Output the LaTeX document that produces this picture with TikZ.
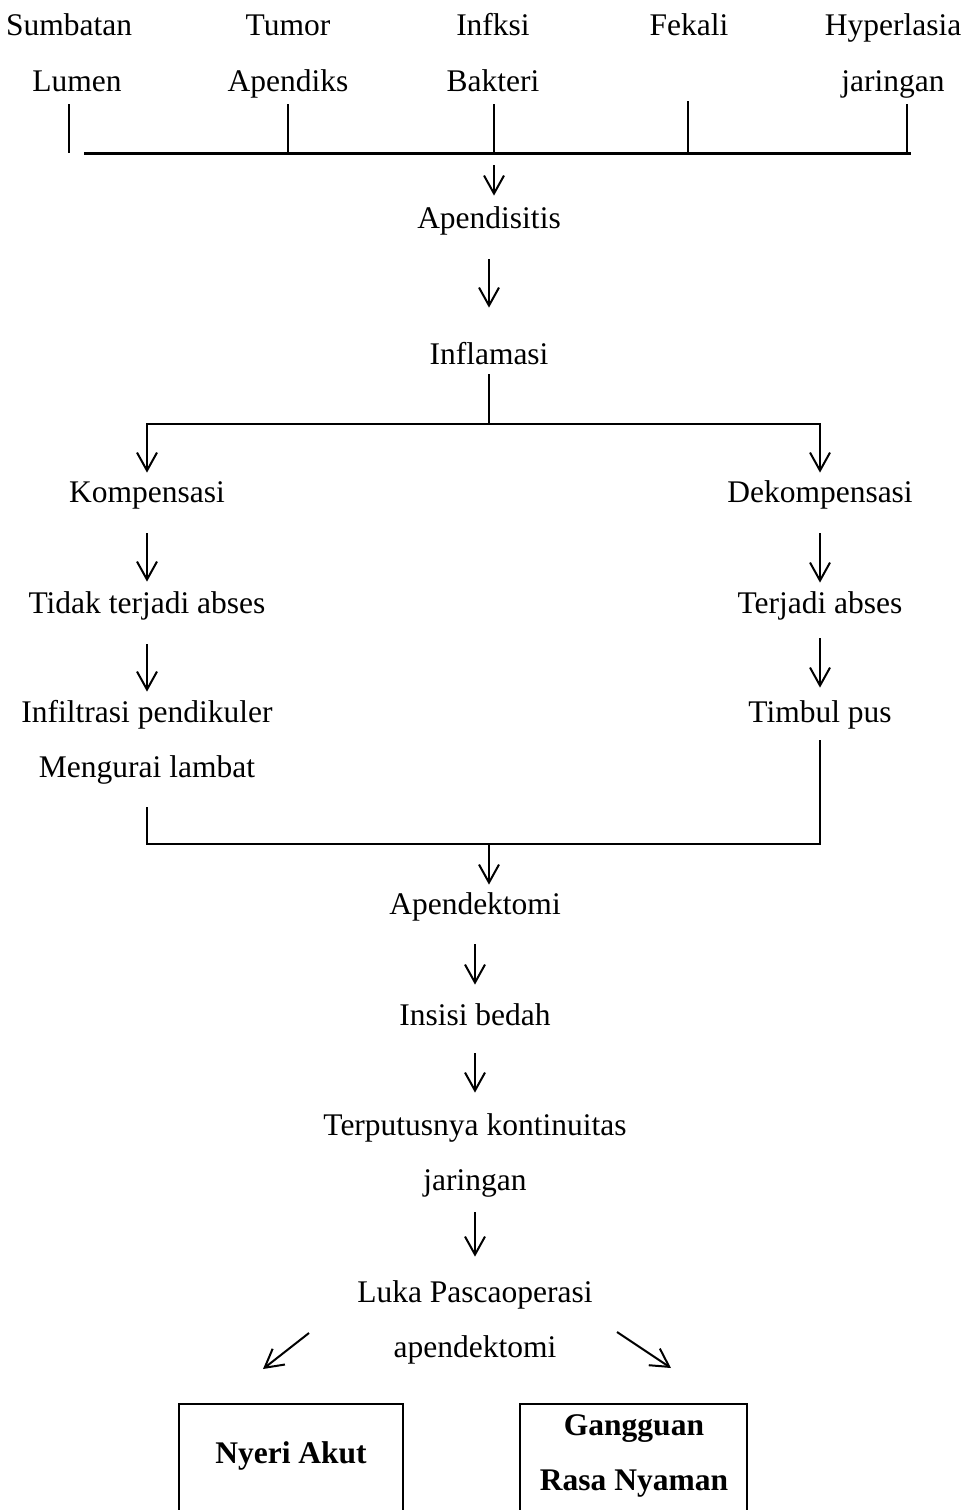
\documentclass[tikz,border=0pt]{standalone}
\usepackage{fontspec}
\setmainfont{Liberation Serif}
\usetikzlibrary{arrows.meta,positioning}
\tikzset{
flowtext/.style={inner sep=0pt,text height=10.5pt,text depth=3.5pt,anchor=base,
  font=\fontsize{15.75}{19}\selectfont},
flowbold/.style={flowtext,font=\fontsize{15.75}{19}\selectfont\bfseries},
flowbox/.style={rectangle,draw=black,line width=1.2pt,minimum height=68pt,inner sep=0pt},
flowline/.style={line width=1pt},
flowbar/.style={line width=1.5pt},
flowarr/.style={line width=1pt,-{Straight Barb[length=9pt,width=10pt]}}
}
\begin{document}
\begin{tikzpicture}[x=0.5pt,y=-0.5pt]
\useasboundingbox (0,0) rectangle (971,1510);
% causes
\node[flowtext] (sumbatan) at (69,35) {Sumbatan};
\node[flowtext] (lumen) at (77,91) {Lumen};
\node[flowtext] (tumor) at (288,35) {Tumor};
\node[flowtext] (apendiks) at (288,91) {Apendiks};
\node[flowtext] (infksi) at (493,35) {Infksi};
\node[flowtext] (bakteri) at (493,91) {Bakteri};
\node[flowtext] (fekali) at (689,35) {Fekali};
\node[flowtext] (hyperlasia) at (893,35) {Hyperlasia};
\node[flowtext] (jaringan) at (893,91) {jaringan};
\coordinate (barL) at (84,153);
\coordinate (barR) at (911,153);
\coordinate (barin) at (494,153);
\coordinate (tk1) at (69,104);
\coordinate (tk2) at (288,104);
\coordinate (tk3) at (494,104);
\coordinate (tk4) at (688,101);
\coordinate (tk5) at (907,104);
\draw[flowbar] (barL) -- (barR);
\draw[flowline] (tk1) -- (tk1 |- barL);
\draw[flowline] (tk2) -- (tk2 |- barL);
\draw[flowline] (tk3) -- (tk3 |- barL);
\draw[flowline] (tk4) -- (tk4 |- barL);
\draw[flowline] (tk5) -- (tk5 |- barL);
% main chain
\node[flowtext] (apendisitis) at (489,228) {Apendisitis};
\node[flowtext] (inflamasi) at (489,364) {Inflamasi};
\draw[flowarr,shorten <=6pt,shorten >=5.5pt] (barin) -- (barin |- apendisitis.north);
\draw[flowarr,shorten <=12pt,shorten >=17.5pt] (apendisitis) -- (inflamasi);
\coordinate (split) at (489,424);
\node[flowtext] (kompensasi) at (147,502) {Kompensasi};
\node[flowtext] (dekompensasi) at (820,502) {Dekompensasi};
\draw[flowline,shorten <=1.5pt] (inflamasi) -- (split);
\draw[flowarr,shorten >=4pt] (split) -| (kompensasi);
\draw[flowarr,shorten >=4pt] (split) -| (dekompensasi);
% two branches
\node[flowtext] (tidak) at (147,613) {Tidak terjadi abses};
\node[flowtext] (infiltrasi) at (147,722) {Infiltrasi pendikuler};
\node[flowtext] (mengurai) at (147,777) {Mengurai lambat};
\node[flowtext] (terjadi) at (820,613) {Terjadi abses};
\node[flowtext] (timbul) at (820,722) {Timbul pus};
\draw[flowarr,shorten <=12pt,shorten >=5pt] (kompensasi) -- (tidak);
\draw[flowarr,shorten <=12pt,shorten >=4.5pt] (tidak) -- (infiltrasi);
\draw[flowarr,shorten <=12pt,shorten >=4.5pt] (dekompensasi) -- (terjadi);
\draw[flowarr,shorten <=9pt,shorten >=6.5pt] (terjadi) -- (timbul);
\coordinate (join) at (489,844);
\draw[flowline,shorten <=11.5pt] (mengurai) |- (join);
\draw[flowline,shorten <=5.5pt] (timbul) |- (join);
% after surgery
\node[flowtext] (apendektomi) at (475,914) {Apendektomi};
\node[flowtext] (insisi) at (475,1025) {Insisi bedah};
\node[flowtext] (terputus) at (475,1135) {Terputusnya kontinuitas};
\node[flowtext] (terputusjar) at (475,1190) {jaringan};
\node[flowtext] (luka) at (475,1302) {Luka Pascaoperasi};
\node[flowtext] (lukaapen) at (475,1357) {apendektomi};
\draw[flowarr,shorten >=4pt] (join) -- (join |- apendektomi.north);
\draw[flowarr,shorten <=11.5pt,shorten >=9.5pt] (apendektomi) -- (insisi);
\draw[flowarr,shorten <=10.5pt,shorten >=10.5pt] (insisi) -- (terputus);
\draw[flowarr,shorten <=7.5pt,shorten >=12pt] (terputusjar) -- (luka);
\draw[flowarr] ([shift={(-166,-17)}]lukaapen.center) -- ++(-46,36);
\draw[flowarr] ([shift={(142,-18)}]lukaapen.center) -- ++(54,36);
% problems
\node[flowbox,minimum width=112pt] (nyeri) at (291,1472) {};
\node[flowbold] (nyeritext) at (291,1463) {Nyeri Akut};
\node[flowbox,minimum width=113.5pt] (gangguan) at (633.5,1472) {};
\node[flowbold] (gangguantext) at (634,1435) {Gangguan};
\node[flowbold] (rasatext) at (634,1490) {Rasa Nyaman};
\end{tikzpicture}
\end{document}
